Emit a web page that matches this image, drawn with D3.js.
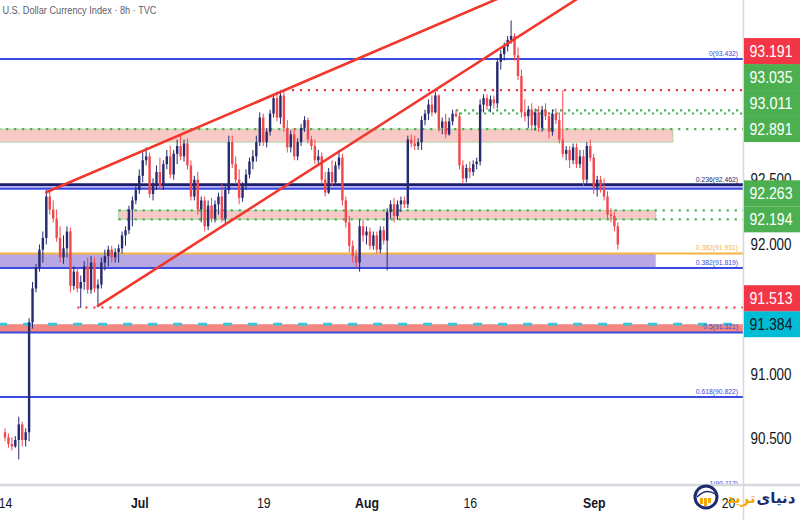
<!DOCTYPE html>
<html><head><meta charset="utf-8">
<script src="https://cdnjs.cloudflare.com/ajax/libs/d3/7.8.5/d3.min.js"></script>
<style>body{margin:0;background:#fff}svg{display:block}</style>
</head><body><svg id="c" width="800" height="520"></svg>
<script>
const title = "U.S. Dollar Currency Index · 8h · TVC";
// 8h candles, index 0 = first bar of Jun 14
const open = [90.55,90.51,90.46,90.44,90.49,90.61,90.49,90.55,91.40,91.66,
91.82,91.96,92.05,92.37,92.27,92.20,92.05,91.90,91.97,92.10,
91.68,91.79,91.66,91.71,91.83,91.65,91.86,91.66,91.69,91.86,
91.91,91.96,91.90,91.94,91.97,92.07,92.11,92.27,92.34,92.42,
92.53,92.65,92.68,92.39,92.47,92.56,92.45,92.62,92.68,92.54,
92.70,92.76,92.68,92.78,92.61,92.37,92.50,92.27,92.34,92.14,
92.30,92.20,92.31,92.37,92.20,92.42,92.79,92.62,92.50,92.36,
92.45,92.54,92.64,92.68,92.79,92.98,92.79,92.87,93.01,93.13,
92.98,93.15,92.90,92.75,92.85,92.68,92.79,92.90,92.96,92.81,
92.76,92.65,92.68,92.50,92.40,92.56,92.48,92.61,92.67,92.34,
92.17,91.99,91.91,91.86,92.14,92.07,92.10,91.99,92.07,91.96,
92.11,92.03,92.25,92.31,92.22,92.31,92.34,92.31,92.81,92.78,
92.76,92.79,92.96,93.01,93.08,93.02,93.15,92.90,92.95,92.85,
92.95,93.01,92.99,92.61,92.51,92.59,92.56,92.62,92.64,93.08,
93.13,93.07,93.12,93.09,93.41,93.47,93.53,93.58,93.61,93.46,
93.30,93.02,92.99,93.04,92.92,93.02,92.90,93.04,92.99,92.87,
93.01,92.96,92.81,92.70,92.73,92.65,92.75,92.62,92.68,92.50,
92.76,92.67,92.44,92.50,92.44,92.37,92.23,92.22,92.14];
const high = [90.58,90.54,90.51,90.52,90.67,90.63,90.58,91.43,91.71,91.85,
92.00,92.10,92.42,92.41,92.34,92.27,92.14,92.07,92.14,92.13,
91.83,91.82,91.76,91.87,91.90,91.91,91.90,91.73,91.90,91.96,
91.99,91.99,91.97,92.00,92.10,92.14,92.30,92.37,92.45,92.58,
92.71,92.75,92.71,92.51,92.61,92.67,92.65,92.73,92.76,92.73,
92.81,92.84,92.81,92.82,92.65,92.53,92.56,92.37,92.37,92.34,
92.36,92.34,92.40,92.47,92.45,92.84,92.84,92.68,92.58,92.48,
92.58,92.67,92.73,92.84,93.02,93.01,92.90,93.04,93.15,93.18,
93.19,93.18,92.96,92.88,92.90,92.82,92.93,92.99,92.98,92.84,
92.81,92.73,92.71,92.56,92.59,92.65,92.64,92.73,92.70,92.37,
92.22,92.03,91.96,92.19,92.19,92.14,92.13,92.10,92.10,92.14,
92.14,92.28,92.34,92.36,92.34,92.37,92.37,92.84,92.85,92.84,
92.82,92.99,93.04,93.12,93.15,93.18,93.16,92.98,93.01,92.98,
93.04,93.04,93.02,92.65,92.62,92.64,92.65,92.67,93.12,93.16,
93.16,93.15,93.15,93.44,93.50,93.56,93.61,93.73,93.63,93.52,
93.35,93.12,93.07,93.09,93.05,93.07,93.07,93.09,93.02,93.04,
93.05,93.02,93.19,92.76,92.76,92.78,92.78,92.73,92.73,92.79,
92.81,92.70,92.53,92.53,92.51,92.41,92.28,92.25,92.17];
const low = [90.48,90.43,90.41,90.43,90.34,90.44,90.44,90.48,91.35,91.63,
91.79,91.86,92.00,92.23,92.17,92.02,91.86,91.85,91.90,91.63,
91.65,91.63,91.51,91.65,91.62,91.62,91.63,91.53,91.66,91.80,
91.83,91.86,91.86,91.86,91.93,91.99,92.08,92.14,92.31,92.39,
92.48,92.61,92.36,92.34,92.42,92.42,92.42,92.58,92.51,92.50,
92.62,92.65,92.64,92.58,92.34,92.34,92.23,92.17,92.10,92.11,
92.17,92.17,92.23,92.17,92.16,92.39,92.59,92.47,92.31,92.33,
92.42,92.51,92.58,92.64,92.76,92.76,92.75,92.84,92.98,92.95,
92.93,92.87,92.71,92.71,92.65,92.65,92.76,92.87,92.78,92.73,
92.62,92.61,92.47,92.37,92.39,92.45,92.45,92.58,92.30,92.13,
91.94,91.86,91.82,91.79,92.02,92.00,91.96,91.96,91.93,91.93,
92.00,91.80,92.20,92.17,92.19,92.25,92.28,92.28,92.75,92.73,
92.73,92.73,92.92,92.96,92.99,93.01,92.87,92.85,92.82,92.84,
92.92,92.98,92.58,92.47,92.48,92.51,92.53,92.58,92.61,93.02,
93.04,93.02,93.05,93.05,93.35,93.42,93.49,93.55,93.42,93.27,
92.98,92.95,92.90,92.88,92.88,92.87,92.87,92.96,92.82,92.84,
92.93,92.78,92.67,92.65,92.59,92.62,92.59,92.59,92.45,92.47,
92.64,92.39,92.37,92.40,92.34,92.20,92.17,92.10,91.96];
const close = [90.51,90.46,90.44,90.49,90.61,90.49,90.55,91.40,91.66,91.82,
91.96,92.05,92.37,92.27,92.20,92.05,91.90,91.97,92.10,91.68,
91.79,91.66,91.71,91.83,91.65,91.86,91.66,91.69,91.86,91.91,
91.96,91.90,91.94,91.97,92.07,92.11,92.27,92.34,92.42,92.53,
92.65,92.68,92.39,92.47,92.56,92.45,92.62,92.68,92.54,92.70,
92.76,92.68,92.78,92.61,92.37,92.50,92.27,92.34,92.14,92.30,
92.20,92.31,92.37,92.20,92.42,92.79,92.62,92.50,92.36,92.45,
92.54,92.64,92.68,92.79,92.98,92.79,92.87,93.01,93.13,92.98,
93.15,92.90,92.75,92.85,92.68,92.79,92.90,92.96,92.81,92.76,
92.65,92.68,92.50,92.40,92.56,92.48,92.61,92.67,92.34,92.17,
91.99,91.91,91.86,92.14,92.07,92.10,91.99,92.07,91.96,92.11,
92.03,92.25,92.31,92.22,92.31,92.34,92.31,92.81,92.78,92.76,
92.79,92.96,93.01,93.08,93.02,93.15,92.90,92.95,92.85,92.95,
93.01,92.99,92.61,92.51,92.59,92.56,92.62,92.64,93.08,93.13,
93.07,93.12,93.09,93.41,93.47,93.53,93.58,93.61,93.46,93.30,
93.02,92.99,93.04,92.92,93.02,92.90,93.04,92.99,92.87,93.01,
92.96,92.81,92.70,92.73,92.65,92.75,92.62,92.68,92.50,92.76,
92.67,92.44,92.50,92.44,92.37,92.23,92.22,92.14,92.00];

const timeTickLabels = ["14","Jul","19","Aug","16","Sep","20"];
const timeTickIndex = [0,39,75,105,135,171,210];
const monthLabels = ["Jul","Aug","Sep"];
const priceTicks = [90.5,91.0,91.5,92.0,92.5,93.0,93.5];

const fibRatios = ["0","0.236","0.382","0.382","0.5","0.618","1"];
const fibValues = [93.432,92.462,91.931,91.819,91.321,90.822,90.112];
const fibKinds  = ["blue","navy","orange","blue","blue","blue","blue"];

const extraLineValues = [92.43];            // blue line under the 0.236 level
const dashedLevelValues = [91.384];         // cyan dashed level

const zoneTop    = [92.891, 92.263, 91.931, 92.462, 91.384];
const zoneBottom = [92.790, 92.194, 91.819, 92.430, 91.321];
const zoneStart  = [-2, 33, -2, -2, -2];
const zoneEnd    = [194, 189, 189, 216, 216];
const zoneKinds  = ["pink","pink","purple","lavender","salmon"];

const dottedValues = [93.191, 93.035, 93.011, 92.891, 92.263, 92.194, 91.513];
const dottedStart  = [81, 131, 131, -2, 33, 33, 21];
const dottedKinds  = ["red","green","green","green","green","green","red"];

const markerValues = [93.191, 93.035, 93.011, 92.891, 92.263, 92.194, 91.513, 91.384];
const markerKinds  = ["red","green","green","green","green","green","red","cyan"];

const upperChannel = [[12, 92.403], [80, 93.178]];
const lowerChannel = [[27, 91.525], [147, 93.569]];

// ---------- drawing ----------
const svg = d3.select("#c");
const plotR = 743, plotB = 484;
const x = d3.scaleLinear().domain([0, 210]).range([5, 728]);
const y = d3.scaleLinear().domain([93.432, 90.822]).range([59, 397]);
const FONT = "'Liberation Sans', Arial, sans-serif";

svg.append("rect").attr("width",800).attr("height",520).attr("fill","#fff");
svg.append("defs").append("clipPath").attr("id","plot")
  .append("rect").attr("x",0).attr("y",0).attr("width",plotR).attr("height",plotB);
const plot = svg.append("g").attr("clip-path","url(#plot)");

const zoneFill = {pink:"#f9c9c8", purple:"#b7a8e3", lavender:"#b9b6ef", salmon:"#f4877f"};
const zoneStroke = {pink:"#a8d8a8", purple:"none", lavender:"none", salmon:"none"};
zoneTop.forEach((t,i)=>{
  plot.append("rect")
    .attr("x", x(zoneStart[i])).attr("width", x(zoneEnd[i]) - x(zoneStart[i]))
    .attr("y", y(t)).attr("height", y(zoneBottom[i]) - y(t))
    .attr("fill", zoneFill[zoneKinds[i]])
    .attr("stroke", zoneStroke[zoneKinds[i]]).attr("stroke-width", 1);
});

const lineColor = {blue:"#3b4be0", navy:"#1b1f6b", orange:"#f6b443"};
const xl = x(-2), xr = x(216);
fibValues.forEach((v,i)=>{
  plot.append("line").attr("x1",xl).attr("x2",xr).attr("y1",y(v)).attr("y2",y(v))
    .attr("stroke", lineColor[fibKinds[i]]).attr("stroke-width", fibKinds[i]==="navy"?2.6:2);
});
extraLineValues.forEach(v=>{
  plot.append("line").attr("x1",xl).attr("x2",xr).attr("y1",y(v)).attr("y2",y(v))
    .attr("stroke", lineColor.blue).attr("stroke-width", 2);
});
dashedLevelValues.forEach(v=>{
  plot.append("line").attr("x1",xl).attr("x2",xr).attr("y1",y(v)).attr("y2",y(v))
    .attr("stroke","#3cc6d8").attr("stroke-width",3).attr("stroke-dasharray","9 16");
});
const dotColor = {red:"#f23645", green:"#4caf50"};
dottedValues.forEach((v,i)=>{
  plot.append("line").attr("x1",x(dottedStart[i])).attr("x2",xr).attr("y1",y(v)).attr("y2",y(v))
    .attr("stroke", dotColor[dottedKinds[i]]).attr("stroke-width",2.2)
    .attr("stroke-dasharray","2.2 5.8").attr("stroke-dashoffset", i===2?4:0);
});

// fib labels
fibValues.forEach((v,i)=>{
  plot.append("text").attr("x",738).attr("y",y(v)-3)
    .attr("text-anchor","end").attr("font-family",FONT).attr("font-size",8)
    .attr("fill", lineColor[fibKinds[i]])
    .attr("transform",`translate(738,0) scale(0.85,1) translate(-738,0)`)
    .text(`${fibRatios[i]}(${v.toFixed(3)})`);
});

// candles
const candles = close.map((c,i)=>({i, o:open[i], h:high[i], l:low[i], c}));
const up = "#262a6e", down = "#f2474c";
const cg = plot.append("g");
cg.selectAll("line.w").data(candles).join("line")
  .attr("x1",d=>x(d.i)).attr("x2",d=>x(d.i)).attr("y1",d=>y(d.h)).attr("y2",d=>y(d.l))
  .attr("stroke",d=>d.c>=d.o?up:down).attr("stroke-width",1);
cg.selectAll("rect.b").data(candles).join("rect")
  .attr("x",d=>x(d.i)-1.2).attr("width",2.4)
  .attr("y",d=>y(Math.max(d.o,d.c)))
  .attr("height",d=>Math.max(1, Math.abs(y(d.o)-y(d.c))))
  .attr("fill",d=>d.c>=d.o?up:down);

// channel lines
[upperChannel, lowerChannel].forEach(p=>{
  const slope = (p[1][1]-p[0][1])/(p[1][0]-p[0][0]);
  const iEnd = 260;
  plot.append("line")
    .attr("x1",x(p[0][0])).attr("y1",y(p[0][1]))
    .attr("x2",x(iEnd)).attr("y2",y(p[0][1]+slope*(iEnd-p[0][0])))
    .attr("stroke","#f2372d").attr("stroke-width",2.6).attr("stroke-linecap","round");
});

// frame lines
svg.append("line").attr("x1",0).attr("x2",800).attr("y1",plotB+1).attr("y2",plotB+1)
  .attr("stroke","#d6d8de").attr("stroke-width",2.5);
svg.append("line").attr("x1",plotR+0.5).attr("x2",plotR+0.5).attr("y1",0).attr("y2",520)
  .attr("stroke","#d6d8de").attr("stroke-width",1.5);

// title
svg.append("text").attr("x",3).attr("y",14).attr("font-family",FONT).attr("font-size",11.5)
  .attr("fill","#5d606b").attr("transform","scale(0.8,1)").text(title);

// price marker positions (stacked upwards to avoid overlap)
const boxH = 26;
const markers = markerValues.map((v,i)=>({v, kind:markerKinds[i], ny:y(v)}))
  .sort((a,b)=>b.ny-a.ny);
let prev = Infinity;
markers.forEach(m=>{ m.py = Math.min(m.ny, prev - boxH); prev = m.py; });

// price axis (ticks hidden behind a marker box are left out)
const visibleTicks = priceTicks.filter(t=>!markers.some(m=>Math.abs(y(t)-m.py) < boxH/2 - 1));
const ya = svg.append("g").attr("transform",`translate(${plotR},0)`)
  .call(d3.axisRight(y).tickValues(visibleTicks).tickFormat(d3.format(".3f")).tickSize(0));
ya.select(".domain").remove();
ya.selectAll("text").attr("x",28).attr("text-anchor","middle")
  .attr("font-family",FONT).attr("font-size",16).attr("fill","#131722")
  .attr("textLength",41).attr("lengthAdjust","spacingAndGlyphs");

// time axis
const xa = svg.append("g").attr("transform",`translate(0,${plotB})`)
  .call(d3.axisBottom(x).tickValues(timeTickIndex).tickFormat((d,i)=>timeTickLabels[i]).tickSize(0));
xa.select(".domain").remove();
xa.selectAll("text").attr("y",13).attr("font-family",FONT).attr("font-size",15)
  .attr("fill","#131722").attr("transform","scale(0.82,1)")
  .attr("font-weight",(d,i)=>monthLabels.includes(timeTickLabels[i])?"bold":"normal");

const boxFill = {red:"#f23645", green:"#4caf50", cyan:"#00bcd4"};
const boxText = {red:"#ffffff", green:"#ffffff", cyan:"#131722"};
const mg = svg.append("g");
markers.forEach(m=>{
  mg.append("rect").attr("x",plotR+1).attr("y",m.py-boxH/2).attr("width",800-plotR).attr("height",boxH)
    .attr("fill",boxFill[m.kind]);
});
markers.forEach(m=>{
  mg.append("text").attr("x",771).attr("y",m.py+6).attr("text-anchor","middle")
    .attr("font-family",FONT).attr("font-size",17).attr("fill",boxText[m.kind])
    .attr("textLength",43).attr("lengthAdjust","spacingAndGlyphs")
    .text(d3.format(".3f")(m.v));
});

// watermark
const wm = svg.append("g");
wm.append("circle").attr("cx",706).attr("cy",497).attr("r",11).attr("fill","#fff")
  .attr("stroke","#1d2a6e").attr("stroke-width",3);
[[-6,3,6],[-2,5,8],[2,2,5]].forEach(b=>{
  wm.append("rect").attr("x",706+b[0]).attr("y",497+b[1]-b[2]+4).attr("width",3).attr("height",b[2]).attr("fill","#f7a600");
});
wm.append("path").attr("d","M697 497 Q706 488 715 494").attr("fill","none").attr("stroke","#1d2a6e").attr("stroke-width",1.5);
wm.append("text").attr("x",741).attr("y",503).attr("text-anchor","middle")
  .attr("font-family","'DejaVu Sans', sans-serif").attr("font-size",15).attr("font-weight","bold")
  .attr("fill","#f7a600").text("ترید");
wm.append("text").attr("x",776).attr("y",503).attr("text-anchor","middle")
  .attr("font-family","'DejaVu Sans', sans-serif").attr("font-size",15).attr("font-weight","bold")
  .attr("fill","#1d2a6e").text("دنیای");
</script></body></html>
